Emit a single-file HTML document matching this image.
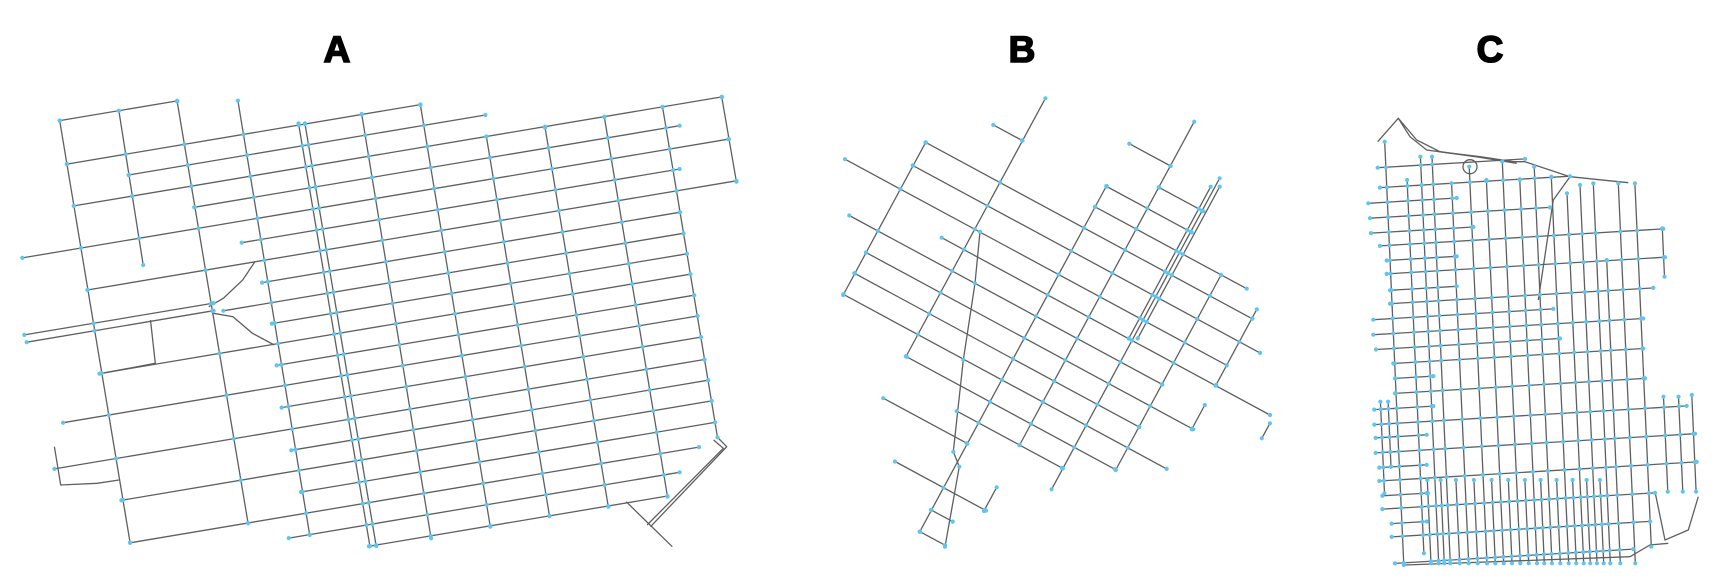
<!DOCTYPE html>
<html><head><meta charset="utf-8"><style>
html,body{margin:0;padding:0;background:#fff;}
svg{display:block;}
.t{font-family:"Liberation Sans",sans-serif;font-weight:bold;font-size:37px;fill:#000;stroke:#000;stroke-width:1.6px;text-anchor:middle;}
</style></head><body>
<svg id="s" width="1723" height="586" viewBox="0 0 1723 586" xmlns="http://www.w3.org/2000/svg">
<text class="t" x="337" y="62">A</text>
<text class="t" x="1022" y="62">B</text>
<text class="t" x="1490" y="62">C</text>
<g id="edges"></g>
<g id="nodes"></g>
</svg>
<script>
// ---------- Panel A data (zoom coordinates) ----------
const aCols = [[123,122,268,1388],[245,93,295,555],[365,65,511,1330],[490,62,638,1365],[615,130,762,1398],[628,130,775,1398],[745,102,888,1375],[866,75,1010,1340],[1002,170,1132,1308],[1123,143,1253,1280],[1245,112,1375,1250],[1365,82,1478,1072],[1487,52,1517,305]];
const aRows = [[152,123,365],[286,138,866],[350,265,1000],[415,152,1487],[480,400,1400],[545,46,1500],[610,498,1400],[674,180,1517],[740,540,1400],[777,50,440],[800,55,440],[805,460,1408],[868,560,1415],[931,205,1422],[996,570,1430],[1060,130,1437],[1125,580,1444],[1194,112,1451],[1258,600,1459],[1322,250,1466],[1388,620,1473],[1454,268,1440],[1520,595,1400],[1585,760,1375]];
const aExtra = [[[1478,1072],[1497,1100],[1340,1340]],[[1470,1080],[1490,1105],[1333,1335]],[[1290,1265],[1385,1400]],[[430,680],[460,655],[500,600],[525,545]],[[440,700],[480,710],[520,760],[565,795]],[[310,720],[320,850],[210,880]],[[112,1100],[125,1215],[200,1210],[245,1200]]];
// ---------- Panel B data ----------
const bRows = [[16,318,1297],[106,278,1320],[197,75,1220],[359,88,1027],[276,365,1350],[443,138,1120],[524,103,958],[605,70,1040],[690,260,885],[772,410,725],[852,190,440],[1023,225,498],[-146,520,606],[-310,928,1052],[-227,1018,1150],[-65,825,1280],[-145,860,1115],[1110,333,398],[1193,300,375]];
const bCols = [[418,188,645],[706,55,828],[1031,318,1355],[1190,125,1095],[1358,295,1228],[1345,320,775],[1372,320,775],[1519,585,1170],[1682,688,915],[1681,975,1048],[1906,1030,1075],[1190,1222,1293]];
const bRoad = [[480,455],[465,610],[430,840],[400,1115],[418,1160],[375,1400]];
// ---------- Panel C data ----------
const cRows = [[180,113,555],[240,120,690],[330,90,630],[415,120,970],[500,140,975],[590,150,940],[680,100,910],[770,160,910],[860,165,915],[950,103,1040],[1035,107,1065],[1120,118,1070],[1205,127,945],[1290,155,930],[1370,165,880],[285,85,350],[375,93,400],[460,140,350],[550,150,350],[635,100,640],[725,108,660],[815,165,280],[905,103,280],[990,107,260],[1080,118,260],[1165,127,260],[1250,155,260]];
const cCols = [[160,125,1395],[222,240,1360],[265,170,1390],[300,170,1390],[355,250,1390],[410,200,1390],[460,240,1390],[510,185,1390],[560,240,1390],[605,200,1390],[655,230,1390],[700,280,1390],[740,255,1390],[780,250,1390],[810,480,1390],[855,250,1390],[905,250,1340],[242,1140,1390],[282,1140,1390],[328,1140,1390],[382,1140,1390],[435,1140,1390],[485,1140,1390],[535,1140,1390],[582,1140,1390],[630,1140,1390],[678,1140,1390],[720,1140,1390],[760,1140,1390],[112,905,1180],[135,905,1100],[962,890,1175],[1007,890,1175],[1047,885,1175],[981,385,530]];
const cExtra = [[[113,125],[175,55],[210,110],[260,150],[320,158],[420,170],[520,185],[555,185]],[[175,55],[230,120],[300,155],[420,172],[530,190]],[[555,185],[690,230],[865,248]],[[945,1175],[975,1320],[1045,1290],[1075,1190]],[[195,1395],[870,1370]],[[870,1370],[930,1335],[985,1330]],[[690,230],[640,300],[595,600]]];

const S = document.getElementById('s'), E = document.getElementById('edges'), N = document.getElementById('nodes');
const NS = 'http://www.w3.org/2000/svg';
const tA = p => [p[0]/2.06, 80 + p[1]/3];
const tB = p => [820 + p[0]/3, 80 + p[1]/3];
const tC = p => [1340 + p[0]/3, 100 + p[1]/3];
function poly(pts, tf, name){
  const el = document.createElementNS(NS,'polyline');
  el.setAttribute('points', pts.map(p=>tf(p).map(v=>v.toFixed(1)).join(',')).join(' '));
  el.setAttribute('fill','none'); el.setAttribute('stroke','#5f5f5f'); el.setAttribute('stroke-width','1.3');
  
  
  E.appendChild(el);
}
function dot(p, tf, name){
  const q = tf(p);
  const el = document.createElementNS(NS,'circle');
  el.setAttribute('cx', q[0].toFixed(1)); el.setAttribute('cy', q[1].toFixed(1)); el.setAttribute('r','2.1');
  el.setAttribute('fill','#5ec4f2');
  
  
  N.appendChild(el);
}
const tol = 4;
// ----- Panel A -----
const mA = 0.245;
aCols.forEach(c=>{ poly([[c[0],c[1]],[c[2],c[3]]], tA, 'street-a'); dot([c[0],c[1]],tA,'node-a'); dot([c[2],c[3]],tA,'node-a'); });
aRows.forEach(r=>{
  const p1=[r[1], r[0]-mA*r[1]], p2=[r[2], r[0]-mA*r[2]];
  poly([p1,p2], tA, 'street-a'); dot(p1,tA,'node-a'); dot(p2,tA,'node-a');
  aCols.forEach(c=>{
    const s=(c[2]-c[0])/(c[3]-c[1]);
    const y=(r[0]-mA*c[0]+mA*s*c[1])/(1+mA*s), x=c[0]+(y-c[1])*s;
    if(y>=c[1]-tol && y<=c[3]+tol && x>=r[1]-tol && x<=r[2]+tol) dot([x,y],tA,'node-a');
  });
});
aExtra.forEach(p=>poly(p,tA,'street-a-curve'));
// ----- Panel B -----
const mB = 0.54;
bRows.forEach(r=>{
  const p1=[r[1], r[0]+mB*r[1]], p2=[r[2], r[0]+mB*r[2]];
  poly([p1,p2], tB, 'street-b'); dot(p1,tB,'node-b'); dot(p2,tB,'node-b');
  bCols.forEach(c=>{
    const x=(c[0]-mB*r[0])/(1+mB*mB), y=r[0]+mB*x;
    if(y>=c[1]-tol && y<=c[2]+tol && x>=r[1]-tol && x<=r[2]+tol) dot([x,y],tB,'node-b');
  });
});
bCols.forEach(c=>{ const p1=[c[0]-mB*c[1],c[1]], p2=[c[0]-mB*c[2],c[2]]; poly([p1,p2],tB,'street-b'); dot(p1,tB,'node-b'); dot(p2,tB,'node-b'); });
poly(bRoad, tB, 'street-b-road');
bRoad.forEach(p=>dot(p,tB,'node-b'));
// ----- Panel C -----
const kC = 0.045, mC = 0.06;
cCols.forEach(c=>{ const p1=[c[0]+kC*(c[1]-700),c[1]], p2=[c[0]+kC*(c[2]-700),c[2]]; poly([p1,p2],tC,'street-c'); dot(p1,tC,'node-c'); dot(p2,tC,'node-c'); });
cRows.forEach(r=>{
  const p1=[r[1], r[0]-mC*(r[1]-500)], p2=[r[2], r[0]-mC*(r[2]-500)];
  poly([p1,p2], tC, 'street-c'); dot(p1,tC,'node-c'); dot(p2,tC,'node-c');
  cCols.forEach(c=>{
    const x=(c[0]+kC*(r[0]+500*mC-700))/(1+kC*mC), y=r[0]-mC*(x-500);
    if(y>=c[1]-tol && y<=c[2]+tol && x>=r[1]-tol && x<=r[2]+tol) dot([x,y],tC,'node-c');
  });
});
cExtra.forEach(p=>poly(p,tC,'street-c-curve'));
const circ = document.createElementNS(NS,'ellipse');
circ.setAttribute('cx',(1340+390/3).toFixed(1)); circ.setAttribute('cy',(100+200/3).toFixed(1));
circ.setAttribute('rx','7'); circ.setAttribute('ry','7'); circ.setAttribute('fill','none'); circ.setAttribute('stroke','#5f5f5f'); circ.setAttribute('stroke-width','1.3');


E.appendChild(circ);
</script>
</body></html>
